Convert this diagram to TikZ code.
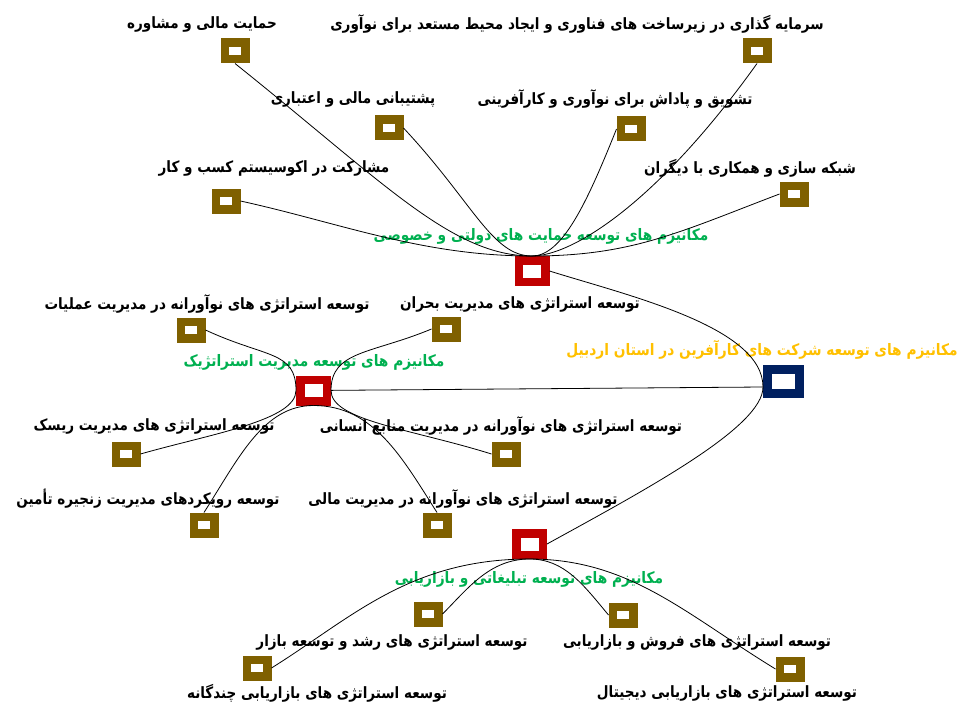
\documentclass[tikz,border=0pt]{standalone}
\usepackage{fontspec}
\usetikzlibrary{calc}
\newfontfamily\fafont[Script=Arabic]{DejaVu Sans}
\TeXXeTstate=1
\definecolor{leafc}{HTML}{7F6000}
\definecolor{hubc}{HTML}{C00000}
\definecolor{rootc}{HTML}{002060}
\definecolor{greenc}{HTML}{00B050}
\definecolor{goldc}{HTML}{FFC000}
% right-to-left line, set slightly taller than the font's natural shape
\newcommand{\rtl}[1]{\scalebox{1}[1.15]{\beginR #1\endR}}
\tikzset{
  leaf/.style={draw=leafc, fill=white, line width=8.5bp, minimum width=20.5bp, minimum height=16.5bp, inner sep=0pt, rectangle},
  hub/.style={draw=hubc, fill=white, line width=8.5bp, minimum width=26.5bp, minimum height=21.5bp, inner sep=0pt, rectangle},
  rootbox/.style={draw=rootc, fill=white, line width=9bp, minimum width=32bp, minimum height=24bp, inner sep=0pt, rectangle},
  lbl/.style={inner sep=0pt, text=black, font=\fafont\bfseries\fontsize{13.6}{15}\selectfont},
  hublbl/.style={inner sep=0pt, text=greenc, font=\fafont\bfseries\fontsize{13.8}{15}\selectfont},
  rootlbl/.style={inner sep=0pt, text=goldc, font=\fafont\bfseries\fontsize{13.8}{15}\selectfont},
  link/.style={draw=black, line width=0.8bp}
}
\begin{document}
\begin{tikzpicture}[x=1bp, y=-1bp]
\useasboundingbox (0,0) rectangle (957,702);

% ---- labels ----
\node[lbl] (t1)  at (202,24)  {\rtl{حمایت مالی و مشاوره}};
\node[lbl] (t3)  at (577,24)  {\rtl{سرمایه گذاری در زیرساخت های فناوری و ایجاد محیط مستعد برای نوآوری}};
\node[lbl] (t2)  at (353,99)  {\rtl{پشتیبانی مالی و اعتباری}};
\node[lbl] (t4)  at (615,99)  {\rtl{تشویق و پاداش برای نوآوری و کارآفرینی}};
\node[lbl] (t5)  at (274,168) {\rtl{مشارکت در اکوسیستم کسب و کار}};
\node[lbl] (t6)  at (750,168) {\rtl{شبکه سازی و همکاری با دیگران}};
\node[hublbl] (h1t) at (541,236) {\rtl{مکانیزم های توسعه حمایت های دولتی و خصوصی}};

\node[lbl] (t7)  at (207,304) {\rtl{توسعه استراتژی های نوآورانه در مدیریت عملیات}};
\node[lbl] (t8)  at (520,304) {\rtl{توسعه استراتژی های مدیریت بحران}};
\node[rootlbl] (rt) at (762,350) {\rtl{مکانیزم های توسعه شرکت های کارآفرین در استان اردبیل}};
\node[hublbl] (h2t) at (314,362) {\rtl{مکانیزم های توسعه مدیریت استراتژیک}};
\node[lbl] (t9)  at (154,426) {\rtl{توسعه استراتژی های مدیریت ریسک}};
\node[lbl] (t10) at (501,426) {\rtl{توسعه استراتژی های نوآورانه در مدیریت منابع انسانی}};
\node[lbl] (t11) at (148,499) {\rtl{توسعه رویکردهای مدیریت زنجیره تأمین}};
\node[lbl] (t12) at (463,499) {\rtl{توسعه استراتژی های نوآورانه در مدیریت مالی}};

\node[hublbl] (h3t) at (529,579) {\rtl{مکانیزم های توسعه تبلیغاتی و بازاریابی}};
\node[lbl] (t13) at (392,642) {\rtl{توسعه استراتژی های رشد و توسعه بازار}};
\node[lbl] (t15) at (697,642) {\rtl{توسعه استراتژی های فروش و بازاریابی}};
\node[lbl] (t14) at (317,693) {\rtl{توسعه استراتژی های بازاریابی چندگانه}};
\node[lbl] (t16) at (727,693) {\rtl{توسعه استراتژی های بازاریابی دیجیتال}};

% ---- boxes ----
\node[rootbox] (root) at (783.5,381.5) {};
\node[hub] (h1) at (532,271) {};
\node[hub] (h2) at (313.5,390.5) {};
\node[hub] (h3) at (529.5,544) {};

\node[leaf] (l1)  at (235,51)  {};
\node[leaf] (l2)  at (389,128) {};
\node[leaf] (l3)  at (757,51)  {};
\node[leaf] (l4)  at (631,129) {};
\node[leaf] (l5)  at (226,201) {};
\node[leaf] (l6)  at (794,194) {};
\node[leaf] (l7)  at (191,330) {};
\node[leaf] (l8)  at (446,329) {};
\node[leaf] (l9)  at (126,454) {};
\node[leaf] (l10) at (506,454) {};
\node[leaf] (l11) at (204,525) {};
\node[leaf] (l12) at (437,525) {};
\node[leaf] (l13) at (428,614) {};
\node[leaf] (l14) at (257,668) {};
\node[leaf] (l15) at (623,615) {};
\node[leaf] (l16) at (790,669) {};

\coordinate (rootport) at ($(root.west)+(0,5.5)$);

% ---- connectors: main branches ----
\draw[link] (h1.east) .. controls +(80,25) and +(0,-60) .. (rootport);
\draw[link] (rootport) .. controls +(0,40) and +(100,-55) .. (h3.east);
\draw[link] (h2) -- (rootport);

% ---- connectors: government / private support ----
\draw[link] (l1.south) .. controls +(150,120) and +(-80,0) .. (h1.north);
\draw[link] (l2.east) .. controls +(70,75) and +(-40,0) .. (h1.north);
\draw[link] (l3.south) .. controls +(-100,140) and +(40,0) .. (h1.north);
\draw[link] (l4.west) .. controls +(-30,75) and +(30,0) .. (h1.north);
\draw[link] (l5.east) .. controls +(100,22) and +(-110,0) .. (h1.north);
\draw[link] (l6.west) .. controls +(-100,38) and +(100,0) .. (h1.north);

% ---- connectors: strategic management ----
\draw[link] (l7.east) .. controls +(60,28) and +(0,-40) .. (h2.west);
\draw[link] (l8.west) .. controls +(-60,25) and +(0,-40) .. (h2.east);
\draw[link] (l9.east) .. controls +(70,-20) and +(0,30) .. (h2.west);
\draw[link] (l10.west) .. controls +(-80,-25) and +(0,30) .. (h2.east);
\draw[link] (l11.north) .. controls +(35,-55) and +(-50,0) .. (h2.south);
\draw[link] (l12.north) .. controls +(-35,-55) and +(60,0) .. (h2.south);

% ---- connectors: advertising / marketing ----
\draw[link] (l13.east) .. controls +(25,-25) and +(-40,0) .. (h3.south);
\draw[link] (l14.east) .. controls +(80,-50) and +(-120,0) .. (h3.south);
\draw[link] (l15.west) .. controls +(-25,-30) and +(35,0) .. (h3.south);
\draw[link] (l16.west) .. controls +(-90,-55) and +(100,0) .. (h3.south);
\end{tikzpicture}
\end{document}
